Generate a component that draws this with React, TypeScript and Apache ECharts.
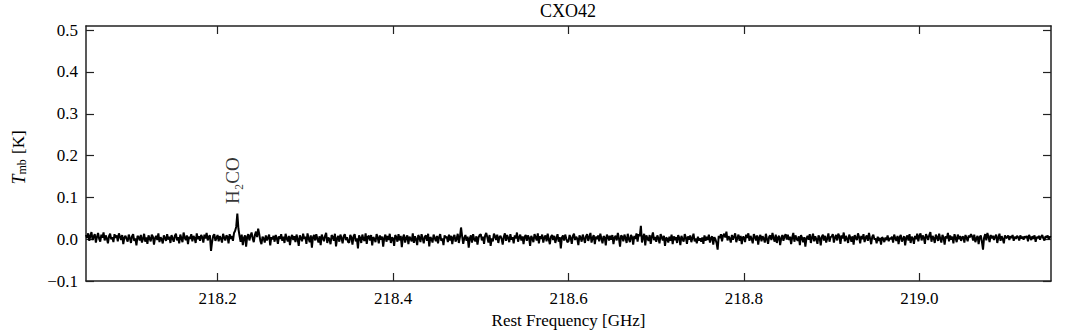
import React, { useEffect, useRef } from "react";
import * as echarts from "echarts";

const title = "CXO42";
const xAxisName = "Rest Frequency [GHz]";
const freqFirst = 218.05; // GHz, first channel
const freqLast = 219.15; // GHz, last channel
const xTicks = [218.2, 218.4, 218.6, 218.8, 219.0];
const yTicks = [-0.1, 0.0, 0.1, 0.2, 0.3, 0.4, 0.5];
const lineLabel = "H₂CO";
const lineLabelPos = [218.2225, 0.14];

// Tmb in mK per channel (218.05 -> 219.15 GHz)
const tmbMilliK = [
  10, 3, 14, -4, 8, 17, -2, 6, 12, -8, 5, 15, 1, -6, 11, 4, 16, -3, 9, 2, -10, 7, 13, 0, 5, -7, 12, 3, 9, -5, 14, 6, -2, 10, -12, 4, 8, 1, -6, 11,
  3, -9, 7, 12, -4, 2, -15, 8, 5, -3, 10, -8, 1, 13, -6, 4, -11, 9, 2, -5, 11, 6, -13, 3, 8, -2, 14, -7, 5, 0, -10, 9, 3, -4, 12, -1, 6, -9, 10, 2,
  -6, 8, 13, -3, 5, -10, 11, 2, -7, 16, 4, -2, 9, -12, 6, 1, 12, -5, 8, 3, -9, 14, 0, 7, -4, 10, 5, -8, 11, 2, 15, -3, 6, 9, -28, -6, 8, 12, -4, 3,
  10, -5, 7, 2, -8, 13, 4, -3, 9, 6, -10, 12, 1, 8, -4, 15, 20, 30, 61, 25, 8, -6, 11, -14, 3, 9, -18, 6, 12, -3, 8, 16, 2, -7, 10, 18, 5, 25, 12, -4,
  -12, 6, 2, -8, 9, -3, 4, 11, -15, 5, 0, 8, -6, 10, 3, -11, 7, 1, 12, -4, 6, -9, 13, 2, -5, 8, -14, 4, 10, -2, 7, -7, 11, 0, -16, 9, 3, -5, 13, 1,
  6, -11, 14, 2, -7, 9, -20, 5, 10, -3, 12, 1, -8, 7, -14, 11, 3, -5, 8, 15, -9, 4, 0, -12, 10, 6, -4, 13, -17, 2, 8, -6, 11, 3, -10, 7, 12, -2, 5, -7,
  -8, 10, 4, -13, 7, 12, -5, 2, -22, 9, 3, -9, 11, 0, -4, 14, -11, 6, 8, -3, 10, -15, 5, 1, -7, 12, 4, -10, 9, -1, 6, -18, 3, 11, -6, 8, -2, 13, -9, 4,
  2, -16, 10, 5, -6, 12, -3, 8, -19, 4, 11, -8, 3, 9, -12, 6, 1, -5, 14, -9, 7, 0, -14, 10, 4, -7, 12, 2, -10, 6, 9, -4, 13, -17, 5, 1, -8, 11, 3, -5,
  8, -10, 5, 12, -4, 2, -14, 9, 3, 6, -7, 11, -3, 8, -12, 4, 10, -6, 1, 13, -9, 5, 28, 7, -11, 3, 10, -4, 6, -20, 2, 9, -8, 12, 0, -5, 7, -13, 4, 10,
  12, -3, 6, -11, 9, 15, 4, -8, 10, -16, 2, -5, 13, 7, -2, 11, -9, 5, 8, 1, -13, 6, 14, -4, 10, 3, -7, 12, -1, 5, -10, 9, 2, 16, -6, 4, 11, -3, 7, -12,
  6, 10, -4, 9, 3, -16, 8, 2, -7, 12, 5, -3, 14, -10, 7, 1, 11, -8, 4, 9, -5, 13, 0, -12, 6, 10, -2, 8, -9, 3, 12, -6, 5, -22, 4, 9, -3, 11, 1, -7,
  -5, 10, 3, -11, 8, 13, -2, 6, 1, -14, 9, 4, -6, 11, 2, -9, 7, 12, -4, 5, 15, -8, 3, 10, -12, 6, 0, 9, -5, 13, 2, -10, 7, 4, -15, 11, 6, -3, 8, -1,
  10, -12, 4, 8, -3, 15, 2, -18, 9, 6, -5, 11, 3, -9, 13, 0, -7, 10, 5, -13, 8, 1, 14, -6, 12, 7, 32, -8, 4, 13, -15, 9, 2, -4, 10, -11, 6, 16, -2, 5,
  -6, 9, 2, -10, 12, 5, -3, 8, -16, 4, 1, -8, 6, -4, 11, -12, 7, -2, 5, -9, 10, 3, -14, 8, 0, -6, 12, 4, -11, 7, -1, 9, -7, 3, 13, -5, 2, -10, 6, -3,
  2, -6, 4, -11, 9, -4, 6, -2, 11, -8, 3, 7, -13, 5, 0, -9, -25, 8, 3, 12, -5, 9, 13, 4, 18, -3, 7, 2, -8, 10, -1, 6, 14, -7, 3, 11, -4, 8, -12, 5,
  5, -7, 11, 3, 14, -4, 8, 1, -10, 12, 6, -3, 9, -13, 4, 10, -5, 7, 2, -8, 13, 0, -11, 6, 9, -2, 15, 3, -6, 11, -9, 4, 8, -14, 2, 10, -4, 7, 12, -1,
  11, -2, 6, -12, 4, 15, -6, 9, 1, -4, 7, -14, 10, 3, -7, 5, -18, 2, 8, -1, 12, -9, 4, 13, -5, 7, 0, -11, 9, 3, -15, 6, 11, -3, 8, -8, 2, 14, -6, 5,
  6, 12, -8, 4, 10, -3, 13, 7, -11, 9, 2, 16, -5, 8, 1, -9, 11, 4, -6, 7, -13, 10, 3, -2, 14, 5, -10, 8, 0, 12, -7, 4, 9, -4, 15, 2, -12, 6, 11, -1,
  2, -10, 6, -4, 3, -13, 5, 1, -7, 4, -2, 9, -5, 3, 0, 6, -8, 11, 2, -4, 8, -12, 5, 10, -6, 1, 7, -15, 4, 9, -3, 12, -9, 6, 2, -11, 8, 0, 13, -5,
  8, 14, -3, 9, 4, -11, 12, 6, -2, 10, 17, -6, 8, 3, -9, 11, 5, -4, 13, 1, -8, 10, 4, -13, 7, 2, 15, -5, 9, -1, 6, -10, 12, 3, -7, 11, 0, 8, -4, 5,
  6, -8, 10, 3, -5, 9, 4, 12, 7, -3, 11, -7, 2, 8, -12, 5, 9, -6, -25, 4, 12, -3, 15, 5, -7, 10, 2, 8, -2, 6, 11, -9, 4, 13, -4, 7, 1, -10, 9, 3,
  4, 9, -2, 7, 3, 10, -4, 6, 1, 8, 5, -3, 9, 2, 6, -1, 7, 3, 8, -5, 10, 4, -2, 7, 1, 9, -6, 5, 3, 8, -1, 6, 10, 2, -3, 7, 4, 9, 0, 6, 5,
];

const FONT = "Liberation Serif";
const INK = "#000000";
const FRAME = "#222222";

export default function App() {
  const ref = useRef<HTMLDivElement>(null);
  useEffect(() => {
    if (!ref.current) return;
    const chart = echarts.init(ref.current, null, { renderer: "svg" });
    const n = tmbMilliK.length;
    const step = (freqLast - freqFirst) / (n - 1);
    const data = tmbMilliK.map((v, i) => [freqFirst + i * step, v / 1000]);
    const fmtY = (v: number) => (v < 0 ? "\u2212" + Math.abs(v).toFixed(1) : v.toFixed(1));
    const tickCommon = { show: true, inside: true, length: 8, lineStyle: { color: FRAME, width: 1.2 } };
    const lineCommon = { show: true, onZero: false, lineStyle: { color: FRAME, width: 1.5 } };
    chart.setOption({
      animation: false,
      backgroundColor: "#ffffff",
      title: {
        text: title,
        left: 568,
        textAlign: "center",
        top: 2,
        padding: 0,
        textStyle: { fontFamily: FONT, fontSize: 18, fontWeight: "normal", color: INK },
      },
      grid: { left: 86, right: 21, top: 26, bottom: 50, containLabel: false, outerBoundsMode: "none" },
      xAxis: [
        {
          type: "value",
          min: 218.05,
          max: 219.15,
          position: "bottom",
          name: xAxisName,
          nameLocation: "middle",
          nameGap: 31,
          nameTextStyle: { fontFamily: FONT, fontSize: 17, color: INK },
          axisLine: lineCommon,
          axisTick: { ...tickCommon, customValues: xTicks },
          axisLabel: {
            customValues: xTicks,
            formatter: (v: number) => v.toFixed(1),
            fontFamily: FONT,
            fontSize: 17,
            color: INK,
            margin: 9,
          },
          splitLine: { show: false },
        },
        {
          type: "value",
          min: 218.05,
          max: 219.15,
          position: "top",
          axisLine: lineCommon,
          axisTick: { ...tickCommon, customValues: xTicks },
          axisLabel: { show: false, customValues: xTicks },
          splitLine: { show: false },
        },
      ],
      yAxis: [
        {
          type: "value",
          min: -0.1,
          max: 0.51,
          position: "left",
          name: "{t|T}{s|mb} [K]",
          nameLocation: "middle",
          nameGap: 58,
          nameRotate: 90,
          nameTextStyle: {
            fontFamily: FONT,
            fontSize: 17,
            color: INK,
            padding: [0, 8, 0, 0],
            rich: {
              t: { fontFamily: FONT, fontSize: 18, fontStyle: "italic", color: INK },
              s: { fontFamily: FONT, fontSize: 12, color: INK, padding: [7, 1, 0, 0] },
            },
          },
          axisLine: lineCommon,
          axisTick: { ...tickCommon, customValues: yTicks },
          axisLabel: {
            customValues: yTicks,
            formatter: fmtY,
            fontFamily: FONT,
            fontSize: 17,
            color: INK,
            margin: 8,
          },
          splitLine: { show: false },
        },
        {
          type: "value",
          min: -0.1,
          max: 0.51,
          position: "right",
          axisLine: lineCommon,
          axisTick: { ...tickCommon, customValues: yTicks },
          axisLabel: { show: false, customValues: yTicks },
          splitLine: { show: false },
        },
      ],
      series: [
        {
          type: "line",
          data,
          showSymbol: false,
          symbol: "none",
          lineStyle: { color: INK, width: 2 },
          silent: true,
          z: 3,
        },
        {
          type: "scatter",
          data: [lineLabelPos],
          symbolSize: 0,
          silent: true,
          label: {
            show: true,
            formatter: lineLabel,
            position: "inside",
            rotate: 90,
            offset: [0, -5],
            fontFamily: FONT,
            fontSize: 19,
            color: INK,
          },
        },
      ],
    });
    return () => chart.dispose();
  }, []);
  return <div ref={ref} style={{ position: "fixed", left: 0, top: 0, width: 1072, height: 331 }} />;
}
